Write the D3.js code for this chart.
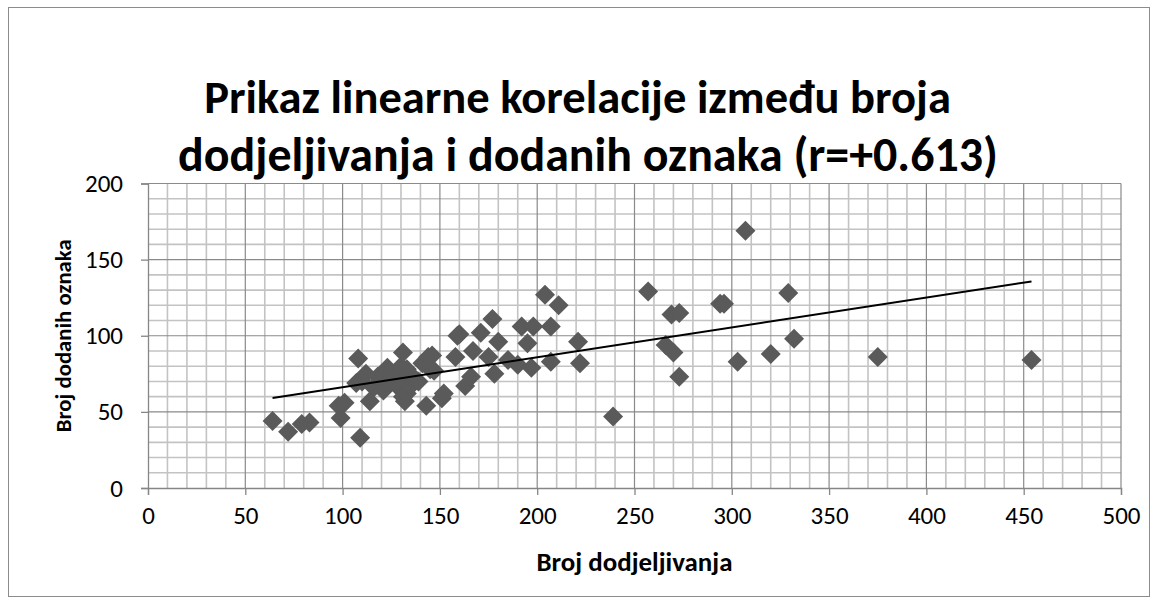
<!DOCTYPE html>
<html>
<head>
<meta charset="utf-8">
<script src="https://cdn.jsdelivr.net/npm/d3@7"></script>
<style>
  html, body { margin: 0; padding: 0; background: #fff; }
  svg { display: block; font-family: Carlito, Lato, "Open Sans", sans-serif; }
</style>
</head>
<body>
<svg id="chart" width="1158" height="604"></svg>
<script>
// Number of assignments (x) and number of added tags (y) per item
const dodjeljivanja = [
  64, 72, 79, 83, 98, 101, 99, 109, 108, 107, 114,
  110, 112, 116, 118, 121, 123, 124, 126, 128, 129, 130, 131, 131, 132,
  133, 133, 134, 135, 137, 139, 141, 143, 144, 145, 146, 147, 151, 152,
  159, 160, 158, 163, 166, 167, 171, 175, 177, 178, 180, 185, 190, 192,
  195, 197, 198, 204, 207, 207, 211, 221, 222,
  239, 257, 266, 269, 270, 273, 273, 294, 296, 303, 307, 320, 329, 332,
  375, 454
];
const oznake = [
  44, 37, 42, 43, 54, 56, 46, 33, 85, 69, 57,
  70, 75, 66, 73, 64, 79, 70, 75, 67, 71, 80, 89, 60, 57,
  78, 62, 74, 67, 72, 70, 82, 54, 86, 78, 87, 77, 59, 62,
  100, 101, 86, 67, 73, 90, 102, 86, 111, 75, 96, 84, 81, 106,
  95, 79, 106, 127, 106, 83, 120, 96, 82,
  47, 129, 94, 114, 89, 115, 73, 121, 121, 83, 169, 88, 128, 98,
  86, 84
];

const xTicks = [0, 50, 100, 150, 200, 250, 300, 350, 400, 450, 500];
const yTicks = [0, 50, 100, 150, 200];

const titleLines = [
  "Prikaz linearne korelacije između broja",
  "dodjeljivanja i dodanih oznaka (r=+0.613)"
];
const xTitle = "Broj dodjeljivanja";
const yTitle = "Broj dodanih oznaka";

const svg = d3.select("#chart");
const plot = { left: 148, right: 1121, top: 183.5, bottom: 488 };

const x = d3.scaleLinear().domain([0, 500]).range([plot.left, plot.right]);
const y = d3.scaleLinear().domain([0, 200]).range([plot.bottom, plot.top]);

// sets a text's font size so that it spans the given width
function fitWidth(sel, width) {
  const fs = +sel.attr("font-size");
  sel.attr("font-size", fs * width / sel.node().getComputedTextLength());
}

// chart frame
svg.append("rect")
  .attr("x", 8.5).attr("y", 7.5)
  .attr("width", 1141).attr("height", 589)
  .attr("fill", "#fff").attr("stroke", "#8c8c8c").attr("stroke-width", 1);

// title
const titleG = svg.append("g").attr("font-weight", "bold").attr("fill", "#000");
const titleSpecs = [
  { text: titleLines[0], cx: 577.5, base: 113, width: 747 },
  { text: titleLines[1], cx: 588, base: 171, width: 820 }
];
titleSpecs.forEach(s => {
  const t = titleG.append("text")
    .attr("x", s.cx).attr("y", s.base)
    .attr("text-anchor", "middle")
    .attr("font-size", 40)
    .text(s.text);
  fitWidth(t, s.width);
});

// minor grid every 10 units
const minorX = d3.range(10, 500, 10).filter(v => v % 50 !== 0);
const minorY = d3.range(10, 200, 10).filter(v => v % 50 !== 0);
const grid = svg.append("g");
grid.selectAll("line.mx").data(minorX).join("line")
  .attr("x1", d => x(d)).attr("x2", d => x(d))
  .attr("y1", plot.top).attr("y2", plot.bottom)
  .attr("stroke", "#c3c3c3").attr("stroke-width", 1.6);
grid.selectAll("line.my").data(minorY).join("line")
  .attr("y1", d => y(d)).attr("y2", d => y(d))
  .attr("x1", plot.left).attr("x2", plot.right)
  .attr("stroke", "#c3c3c3").attr("stroke-width", 1.6);

// major grid on tick values
grid.selectAll("line.Mx").data(xTicks.slice(1)).join("line")
  .attr("x1", d => x(d)).attr("x2", d => x(d))
  .attr("y1", plot.top).attr("y2", plot.bottom)
  .attr("stroke", "#8a8a8a").attr("stroke-width", 1.2);
grid.selectAll("line.My").data(yTicks.slice(1)).join("line")
  .attr("y1", d => y(d)).attr("y2", d => y(d))
  .attr("x1", plot.left).attr("x2", plot.right)
  .attr("stroke", "#8a8a8a").attr("stroke-width", 1.2);

// axes
const xAxis = d3.axisBottom(x).tickValues(xTicks).tickSize(7).tickPadding(11).tickFormat(d3.format("d"));
const yAxis = d3.axisLeft(y).tickValues(yTicks).tickSize(7).tickPadding(18).tickFormat(d3.format("d"));

const gx = svg.append("g").attr("transform", `translate(0,${plot.bottom})`).call(xAxis);
const gy = svg.append("g").attr("transform", `translate(${plot.left},0)`).call(yAxis);
[gx, gy].forEach(g => {
  g.select(".domain").attr("stroke", "#868686").attr("stroke-width", 1.3);
  g.selectAll(".tick line").attr("stroke", "#868686").attr("stroke-width", 1.3);
  g.selectAll(".tick text")
    .attr("font-family", "Carlito, Lato, 'Open Sans', sans-serif")
    .attr("font-size", 25).attr("fill", "#000");
});
gx.selectAll(".tick text").attr("dy", "0.71em");

// least-squares trend line across the data range
const n = dodjeljivanja.length;
const mx = d3.mean(dodjeljivanja), my = d3.mean(oznake);
let sxy = 0, sxx = 0;
for (let i = 0; i < n; i++) {
  sxy += (dodjeljivanja[i] - mx) * (oznake[i] - my);
  sxx += (dodjeljivanja[i] - mx) ** 2;
}
const slope = sxy / sxx, intercept = my - slope * mx;
const [xmin, xmax] = d3.extent(dodjeljivanja);

// markers
const pts = d3.range(n).map(i => ({ x: dodjeljivanja[i], y: oznake[i] }));
svg.append("g").selectAll("path").data(pts).join("path")
  .attr("d", d3.symbol(d3.symbolSquare, 200)())
  .attr("transform", d => `translate(${x(d.x)},${y(d.y)}) rotate(45)`)
  .attr("fill", "#5a5a5a");

svg.append("line")
  .attr("x1", x(xmin)).attr("y1", y(intercept + slope * xmin))
  .attr("x2", x(xmax)).attr("y2", y(intercept + slope * xmax))
  .attr("stroke", "#000").attr("stroke-width", 2);

// axis titles
const xt = svg.append("text")
  .attr("x", (plot.left + plot.right) / 2).attr("y", 571)
  .attr("text-anchor", "middle").attr("font-weight", "bold")
  .attr("font-size", 20).text(xTitle);
fitWidth(xt, 196);

const yt = svg.append("text")
  .attr("transform", `translate(71,${(plot.top + plot.bottom) / 2}) rotate(-90)`)
  .attr("text-anchor", "middle").attr("font-weight", "bold")
  .attr("font-size", 20).text(yTitle);
fitWidth(yt, 193);
</script>
</body>
</html>
